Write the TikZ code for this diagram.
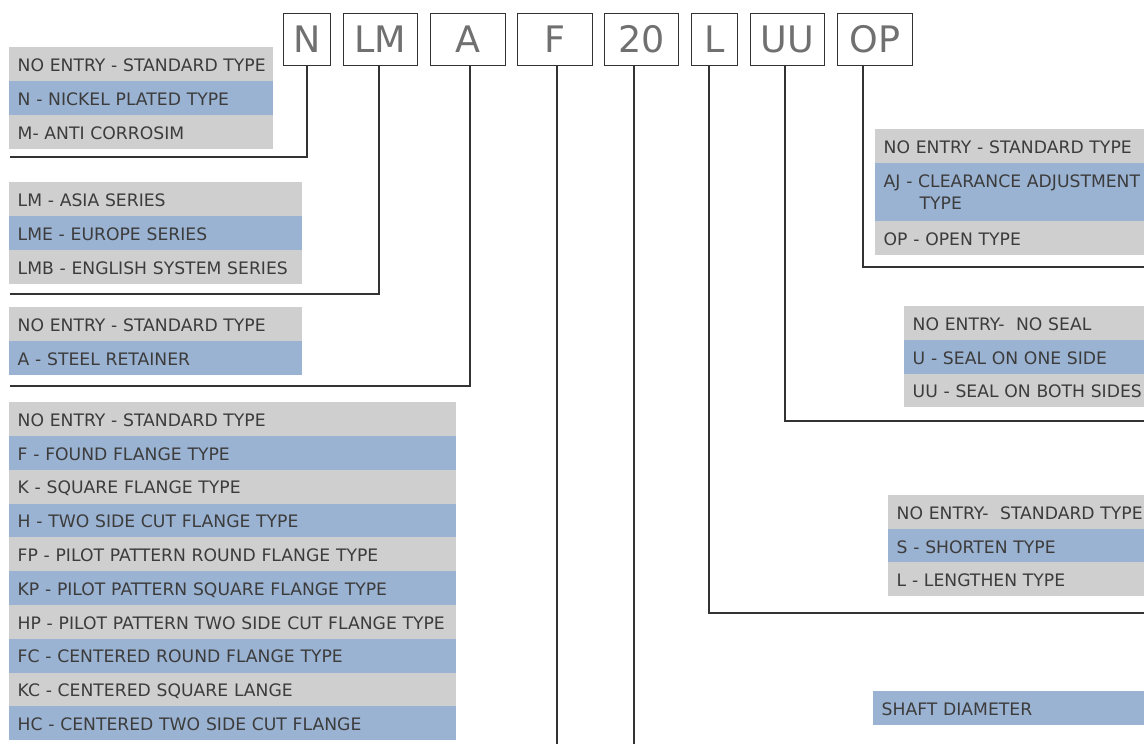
\documentclass[tikz,border=0pt]{standalone}
\usepackage{fontspec}
\setmainfont{DejaVu Sans}
\definecolor{rowgray}{HTML}{CFCFCF}
\definecolor{rowblue}{HTML}{9BB3D3}
\definecolor{txtc}{HTML}{3C3C3C}
\definecolor{codetxt}{HTML}{707070}
\definecolor{wirec}{HTML}{333333}
\begin{document}
\begin{tikzpicture}[x=1pt,y=-1pt,
  itembase/.style={anchor=north west, inner xsep=8.5pt, inner ysep=0pt, minimum height=34pt,
    align=left, font=\fontsize{17.2}{22}\selectfont, text=txtc},
  item/.style={itembase, text height=14.5pt, text depth=0pt,
    execute at begin node=\hbox\bgroup, execute at end node=\egroup},
  g/.style={item, fill=rowgray}, b/.style={item, fill=rowblue},
  grpA/.style={text width=247pt},
  grpB/.style={text width=276pt},
  grpC/.style={text width=430pt, minimum height=33.8pt},
  grpOP/.style={text width=308pt},
  grpUU/.style={text width=279pt, minimum height=33.7pt},
  grpL/.style={text width=295pt},
  grpS/.style={text width=310pt},
  code/.style={anchor=north west, draw=wirec, line width=1.1pt, minimum height=52pt, inner sep=0pt,
    font=\fontsize{36.5}{40}\selectfont, text=codetxt},
  link/.style={draw=wirec, line width=1.3pt}]
\useasboundingbox (0,0) rectangle (1144,744);
\clip (0,0) rectangle (1144,744);

% code boxes
\node[code, minimum width=47pt] (cN)  at (283,13) {N};
\node[code, minimum width=74pt] (cLM) at (343,13) {LM};
\node[code, minimum width=75pt] (cA)  at (430,13) {A};
\node[code, minimum width=75pt] (cF)  at (517,13) {F};
\node[code, minimum width=74pt] (c20) at (604,13) {20};
\node[code, minimum width=46pt] (cL)  at (691,13) {L};
\node[code, minimum width=74pt] (cUU) at (750,13) {UU};
\node[code, minimum width=75pt] (cOP) at (837,13) {OP};

% group N
\node[g, grpA] (n1) at (9,47)  {NO ENTRY - STANDARD TYPE};
\node[b, grpA] (n2) at (9,81)  {N - NICKEL PLATED TYPE};
\node[g, grpA] (n3) at (9,115) {M- ANTI CORROSIM};

% group LM
\node[g, grpB] (lm1) at (9,182) {LM - ASIA SERIES};
\node[b, grpB] (lm2) at (9,216) {LME - EUROPE SERIES};
\node[g, grpB] (lm3) at (9,250) {LMB - ENGLISH SYSTEM SERIES};

% group A
\node[g, grpB] (a1) at (9,307) {NO ENTRY - STANDARD TYPE};
\node[b, grpB] (a2) at (9,341) {A - STEEL RETAINER};

% group F
\node[g, grpC] (f1)  at (9,402)   {NO ENTRY - STANDARD TYPE};
\node[b, grpC] (f2)  at (9,435.8) {F - FOUND FLANGE TYPE};
\node[g, grpC] (f3)  at (9,469.6) {K - SQUARE FLANGE TYPE};
\node[b, grpC] (f4)  at (9,503.4) {H - TWO SIDE CUT FLANGE TYPE};
\node[g, grpC] (f5)  at (9,537.2) {FP - PILOT PATTERN ROUND FLANGE TYPE};
\node[b, grpC] (f6)  at (9,571)   {KP - PILOT PATTERN SQUARE FLANGE TYPE};
\node[g, grpC] (f7)  at (9,604.8) {HP - PILOT PATTERN TWO SIDE CUT FLANGE TYPE};
\node[b, grpC] (f8)  at (9,638.6) {FC - CENTERED ROUND FLANGE TYPE};
\node[g, grpC] (f9)  at (9,672.4) {KC - CENTERED SQUARE LANGE};
\node[b, grpC] (f10) at (9,706.2) {HC - CENTERED TWO SIDE CUT FLANGE};

% group OP
\node[g, grpOP] (op1) at (875,129) {NO ENTRY - STANDARD TYPE};
\node[itembase, fill=rowblue, grpOP, minimum height=58pt] (op2) at (875,163)
  {AJ - CLEARANCE ADJUSTMENT\\\hspace*{36pt}TYPE};
\node[g, grpOP] (op3) at (875,221) {OP - OPEN TYPE};

% group UU
\node[g, grpUU] (uu1) at (904,306)   {NO ENTRY-\ \ NO SEAL};
\node[b, grpUU] (uu2) at (904,339.7) {U - SEAL ON ONE SIDE};
\node[g, grpUU] (uu3) at (904,373.4) {UU - SEAL ON BOTH SIDES};

% group L
\node[g, grpL] (l1) at (888,495) {NO ENTRY-\ \ STANDARD TYPE};
\node[b, grpL] (l2) at (888,529) {S - SHORTEN TYPE};
\node[g, grpL] (l3) at (888,562) {L - LENGTHEN TYPE};

% shaft
\node[b, grpS] (s1) at (873,691) {SHAFT DIAMETER};

% connectors
\coordinate (jN) at (307,157);  \coordinate (eN) at (10,157);
\coordinate (jLM) at (379,294); \coordinate (eLM) at (10,294);
\coordinate (jA) at (470,386);  \coordinate (eA) at (10,386);
\coordinate (eF) at (557,746);
\coordinate (e20) at (634,746);
\coordinate (jL) at (709,613);  \coordinate (eL) at (1146,613);
\coordinate (jUU) at (785,421); \coordinate (eUU) at (1146,421);
\coordinate (jOP) at (863,267); \coordinate (eOP) at (1146,267);

\draw[link] (cN.south -| jN) -- (jN) -- (eN);
\draw[link] (cLM.south -| jLM) -- (jLM) -- (eLM);
\draw[link] (cA.south -| jA) -- (jA) -- (eA);
\draw[link] (cF.south -| eF) -- (eF);
\draw[link] (c20.south -| e20) -- (e20);
\draw[link] (cL.south -| jL) -- (jL) -- (eL);
\draw[link] (cUU.south -| jUU) -- (jUU) -- (eUU);
\draw[link] (cOP.south -| jOP) -- (jOP) -- (eOP);
\end{tikzpicture}
\end{document}
